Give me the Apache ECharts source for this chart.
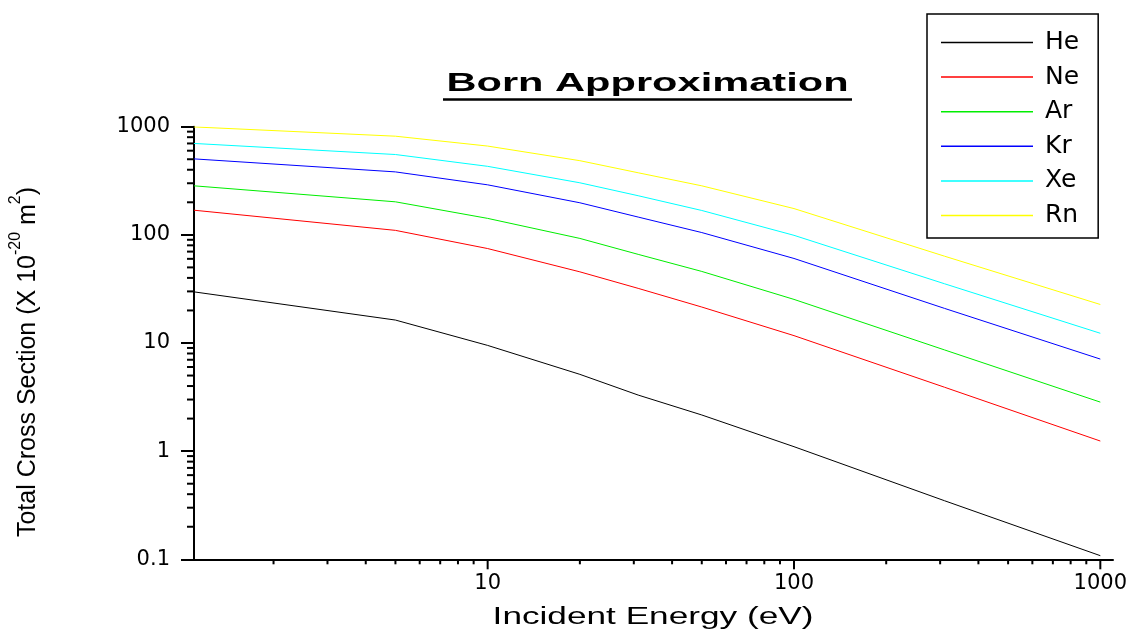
<!DOCTYPE html>
<html>
<head>
<meta charset="utf-8">
<script src="https://cdn.jsdelivr.net/npm/echarts@6/dist/echarts.min.js"></script>
<style>
html,body{margin:0;padding:0;background:#fff;}
#chart{width:1133px;height:637px;}
</style>
</head>
<body>
<div id="chart"></div>
<script>
// Incident energy (eV)
const energy = [1.1, 5, 10, 20, 31, 50, 100, 310, 1000];
// Total cross sections (x 10^-20 m^2)
const He = [29.7, 16.3, 9.5, 5.13, 3.3, 2.16, 1.10, 0.348, 0.108];
const Ne = [169, 110, 74.7, 45.5, 32, 21.5, 11.7, 3.9, 1.24];
const Ar = [284, 202, 142, 92.7, 66, 45.9, 25.3, 8.63, 2.84];
const Kr = [504, 382, 290, 198, 146, 105, 60.5, 20.9, 7.1];
const Xe = [700, 553, 430, 303, 230, 168, 99, 35.3, 12.3];
const Rn = [995, 817, 662, 485, 375, 284, 175, 63.5, 22.7];

const seriesNames = ['He', 'Ne', 'Ar', 'Kr', 'Xe', 'Rn'];
const seriesValues = [He, Ne, Ar, Kr, Xe, Rn];
const seriesColors = ['#000000', '#ff0000', '#00ee00', '#0000ff', '#00ffff', '#ffff00'];

// Axis ranges and ticks
const X_MIN = 1.1, X_MAX = 1100;
const Y_MIN = 0.1, Y_MAX = 1000;
const xMajorTicks = [10, 100, 1000];
const xMinorTicks = [2, 3, 4, 5, 6, 7, 8, 9, 20, 30, 40, 50, 60, 70, 80, 90, 200, 300, 400, 500, 600, 700, 800, 900];
const yMinorTicks = [0.2, 0.3, 0.4, 0.5, 0.6, 0.7, 0.8, 0.9, 2, 3, 4, 5, 6, 7, 8, 9, 20, 30, 40, 50, 60, 70, 80, 90, 200, 300, 400, 500, 600, 700, 800, 900];

const chart = echarts.init(document.getElementById('chart'), null, {renderer: 'canvas'});

function fmt(v) { return String(+Number(v).toPrecision(6)); }

function xTickSeries(values, len) {
  return {
    type: 'custom', silent: true, clip: false, z: 5,
    data: values.map(v => [v, Y_MIN]),
    renderItem: function (params, api) {
      const p = api.coord([api.value(0), Y_MIN]);
      return {type: 'line', shape: {x1: p[0], y1: p[1], x2: p[0], y2: p[1] + len},
              style: {stroke: '#000', lineWidth: 2}};
    }
  };
}
function yTickSeries(values, len) {
  return {
    type: 'custom', silent: true, clip: false, z: 5,
    data: values.map(v => [X_MIN, v]),
    renderItem: function (params, api) {
      const p = api.coord([X_MIN, api.value(1)]);
      return {type: 'line', shape: {x1: p[0] - len, y1: p[1], x2: p[0], y2: p[1]},
              style: {stroke: '#000', lineWidth: 2}};
    }
  };
}

const lineSeries = seriesNames.map((name, i) => ({
  name: name,
  type: 'line',
  symbol: 'none',
  smooth: false,
  data: energy.map((e, j) => [e, seriesValues[i][j]]),
  lineStyle: {color: seriesColors[i], width: 1},
  itemStyle: {color: seriesColors[i]},
  z: 3
}));

const option = {
  animation: false,
  backgroundColor: '#fff',
  grid: {left: 194, right: 20, top: 126.7, bottom: 77.7, containLabel: false},
  legend: {
    data: seriesNames,
    orient: 'vertical',
    left: 927, top: 14,
    padding: [16, 19, 10, 14],
    icon: 'rect',
    itemWidth: 92, itemHeight: 1.5, itemGap: 9.6,
    borderColor: '#000', borderWidth: 1.5,
    backgroundColor: '#fff',
    textStyle: {fontFamily: 'DejaVu Sans', fontSize: 25, color: '#000', lineHeight: 25, padding: [0, 0, 0, 7]}
  },
  xAxis: {
    type: 'log', logBase: 10, min: X_MIN, max: X_MAX,
    axisLine: {show: true, lineStyle: {color: '#000', width: 2}},
    axisTick: {show: false},
    minorTick: {show: false},
    splitLine: {show: false},
    axisLabel: {show: true, showMinLabel: false, showMaxLabel: false, margin: 14,
                fontFamily: 'DejaVu Sans', fontSize: 21, color: '#000', formatter: fmt}
  },
  yAxis: {
    type: 'log', logBase: 10, min: Y_MIN, max: Y_MAX,
    axisLine: {show: true, lineStyle: {color: '#000', width: 2}},
    axisTick: {show: true, inside: false, length: 13, lineStyle: {color: '#000', width: 2}},
    minorTick: {show: false},
    splitLine: {show: false},
    axisLabel: {margin: 24, fontFamily: 'DejaVu Sans', fontSize: 21, color: '#000', formatter: fmt}
  },
  graphic: [
    {type: 'text', x: 647.5, y: 84, scaleX: 1.6, z: 10,
     style: {text: 'Born Approximation', fontFamily: 'Liberation Sans', fontWeight: 'bold', fontSize: 26,
             fill: '#000', align: 'center', verticalAlign: 'middle'}},
    {type: 'line', z: 10, shape: {x1: 443, y1: 99.5, x2: 852, y2: 99.5}, style: {stroke: '#000', lineWidth: 2.5}},
    {type: 'text', x: 653, y: 618, scaleX: 1.53, z: 10,
     style: {text: 'Incident Energy (eV)', fontFamily: 'Liberation Sans', fontSize: 23,
             fill: '#000', align: 'center', verticalAlign: 'middle'}},
    {type: 'text', x: 27, y: 362, rotation: Math.PI / 2, z: 10,
     style: {text: '{m|Total Cross Section (X 10}{s|-20}{m| m}{s|2}{m|)}',
             fontFamily: 'Liberation Sans', fontSize: 25, fill: '#000', align: 'center', verticalAlign: 'middle',
             rich: {
               m: {fontFamily: 'Liberation Sans', fontSize: 25, lineHeight: 27, verticalAlign: 'bottom', fill: '#000'},
               s: {fontFamily: 'Liberation Sans', fontSize: 16, lineHeight: 16, verticalAlign: 'bottom', padding: [0, 0, 17, 0], fill: '#000'}
             }}}
  ],
  series: lineSeries.concat([
    xTickSeries(xMajorTicks, 10),
    xTickSeries(xMinorTicks, 5),
    yTickSeries(yMinorTicks, 7)
  ])
};
chart.setOption(option);
</script>
</body>
</html>
